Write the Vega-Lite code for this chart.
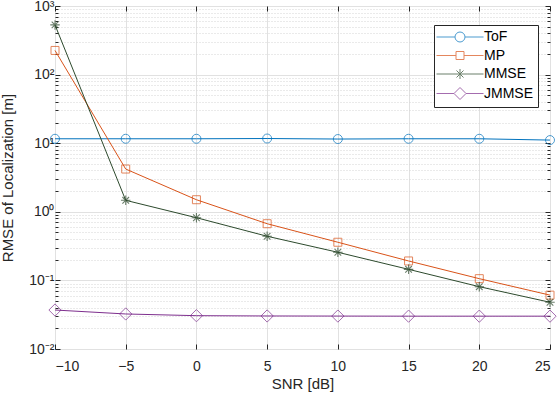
{
  "$schema": "https://vega.github.io/schema/vega-lite/v6.json",
  "width": 495,
  "height": 343,
  "autosize": "none",
  "padding": {"left": 55, "top": 6, "right": 8, "bottom": 49},
  "background": "white",
  "config": {
    "view": {"stroke": "#262626", "strokeWidth": 1},
    "font": "Liberation Sans",
    "axis": {
      "domain": false,
      "labelColor": "#262626",
      "titleColor": "#262626",
      "tickColor": "#262626",
      "labelFontSize": 14,
      "titleFontSize": 15,
      "titleFontWeight": "normal",
      "labelFont": "Liberation Sans",
      "titleFont": "Liberation Sans"
    }
  },
  "data": {
    "values": [
      {"snr": -10, "rmse": 11.6, "series": "ToF"},
      {"snr": -5, "rmse": 11.6, "series": "ToF"},
      {"snr": 0, "rmse": 11.6, "series": "ToF"},
      {"snr": 5, "rmse": 11.7, "series": "ToF"},
      {"snr": 10, "rmse": 11.5, "series": "ToF"},
      {"snr": 15, "rmse": 11.6, "series": "ToF"},
      {"snr": 20, "rmse": 11.6, "series": "ToF"},
      {"snr": 25, "rmse": 11.1, "series": "ToF"},
      {"snr": -10, "rmse": 225, "series": "MP"},
      {"snr": -5, "rmse": 4.2, "series": "MP"},
      {"snr": 0, "rmse": 1.5, "series": "MP"},
      {"snr": 5, "rmse": 0.67, "series": "MP"},
      {"snr": 10, "rmse": 0.36, "series": "MP"},
      {"snr": 15, "rmse": 0.192, "series": "MP"},
      {"snr": 20, "rmse": 0.106, "series": "MP"},
      {"snr": 25, "rmse": 0.061, "series": "MP"},
      {"snr": -10, "rmse": 530, "series": "MMSE"},
      {"snr": -5, "rmse": 1.47, "series": "MMSE"},
      {"snr": 0, "rmse": 0.82, "series": "MMSE"},
      {"snr": 5, "rmse": 0.44, "series": "MMSE"},
      {"snr": 10, "rmse": 0.257, "series": "MMSE"},
      {"snr": 15, "rmse": 0.145, "series": "MMSE"},
      {"snr": 20, "rmse": 0.081, "series": "MMSE"},
      {"snr": 25, "rmse": 0.048, "series": "MMSE"},
      {"snr": -10, "rmse": 0.037, "series": "JMMSE"},
      {"snr": -5, "rmse": 0.0324, "series": "JMMSE"},
      {"snr": 0, "rmse": 0.0306, "series": "JMMSE"},
      {"snr": 5, "rmse": 0.0303, "series": "JMMSE"},
      {"snr": 10, "rmse": 0.0302, "series": "JMMSE"},
      {"snr": 15, "rmse": 0.0301, "series": "JMMSE"},
      {"snr": 20, "rmse": 0.0301, "series": "JMMSE"},
      {"snr": 25, "rmse": 0.0301, "series": "JMMSE"}
    ]
  },
  "encoding": {
    "x": {
      "field": "snr", "type": "quantitative",
      "scale": {"domain": [-10, 25], "nice": false, "zero": false},
      "axis": null
    },
    "y": {
      "field": "rmse", "type": "quantitative",
      "scale": {"type": "log", "domain": [0.01, 1000], "nice": false},
      "axis": null
    },
    "color": {
      "field": "series", "type": "nominal",
      "scale": {"domain": ["ToF", "MP", "MMSE", "JMMSE"], "range": ["#0072BD", "#D95319", "#2d4a2d", "#7E2F8E"]},
      "legend": {
        "orient": "none",
        "legendX": 379,
        "legendY": 19,
        "title": null,
        "strokeColor": "#262626",
        "fillColor": "white",
        "padding": 5,
        "labelFontSize": 14,
        "labelColor": "black",
        "labelFont": "Liberation Sans",
        "symbolSize": 100,
        "symbolStrokeWidth": 1,
        "symbolFillColor": "transparent",
        "symbolOffset": 14,
        "labelOffset": 17,
        "rowPadding": 4.5
      }
    }
  },
  "layer": [
    {
      "mark": {"type": "line", "strokeWidth": 1},
      "encoding": {
        "x": {
          "field": "snr", "type": "quantitative",
          "axis": {
            "orient": "bottom",
            "values": [-10, -5, 0, 5, 10, 15, 20, 25],
            "title": "SNR [dB]",
            "grid": true, "gridColor": "#e1e1e1",
            "tickSize": -5,
            "labelPadding": 15,
            "titlePadding": 3
          }
        },
        "y": {
          "field": "rmse", "type": "quantitative",
          "axis": {
            "orient": "left",
            "values": [0.01,0.02,0.03,0.04,0.05,0.06,0.07,0.08,0.09,0.1,0.2,0.3,0.4,0.5,0.6,0.7,0.8,0.9,1,2,3,4,5,6,7,8,9,10,20,30,40,50,60,70,80,90,100,200,300,400,500,600,700,800,900,1000],
            "labelExpr": "datum.value==1000?'10³':datum.value==100?'10²':datum.value==10?'10¹':datum.value==1?'10⁰':datum.value==0.1?'10⁻¹':datum.value==0.01?'10⁻²':''",
            "title": "RMSE of Localization [m]",
            "grid": true,
            "gridColor": {"condition": {"test": "indexof([0.01,0.1,1,10,100,1000], datum.value) >= 0", "value": "#e1e1e1"}, "value": "#d4d4d4"},
            "gridDash": {"condition": {"test": "indexof([0.01,0.1,1,10,100,1000], datum.value) >= 0", "value": []}, "value": [1, 2]},
            "tickSize": {"condition": {"test": "indexof([0.01,0.1,1,10,100,1000], datum.value) >= 0", "value": -5}, "value": -3},
            "labelPadding": 6,
            "titlePadding": 13,
            "labelBound": false,
            "labelOverlap": false
          }
        }
      }
    },
    {
      "transform": [{"filter": "datum.series == 'ToF'"}],
      "mark": {"type": "point", "filled": false, "strokeWidth": 1, "shape": "circle", "size": 81},
      "encoding": {
        "x": {
          "field": "snr", "type": "quantitative",
          "axis": {
            "orient": "top",
            "values": [-10, -5, 0, 5, 10, 15, 20, 25],
            "title": null, "labels": false, "grid": false,
            "tickSize": -5
          }
        },
        "y": {
          "field": "rmse", "type": "quantitative",
          "axis": {
            "orient": "right",
            "values": [0.01,0.02,0.03,0.04,0.05,0.06,0.07,0.08,0.09,0.1,0.2,0.3,0.4,0.5,0.6,0.7,0.8,0.9,1,2,3,4,5,6,7,8,9,10,20,30,40,50,60,70,80,90,100,200,300,400,500,600,700,800,900,1000],
            "title": null, "labels": false, "grid": false,
            "tickSize": {"condition": {"test": "indexof([0.01,0.1,1,10,100,1000], datum.value) >= 0", "value": -5}, "value": -3}
          }
        }
      }
    },
    {
      "transform": [{"filter": "datum.series == 'MP'"}],
      "mark": {"type": "point", "filled": false, "strokeWidth": 1, "shape": "square", "size": 64}
    },
    {
      "transform": [{"filter": "datum.series == 'MMSE'"}],
      "mark": {"type": "point", "filled": false, "strokeWidth": 1.1, "shape": "M-1,0H1M0,-1V1M-0.7,-0.7L0.7,0.7M-0.7,0.7L0.7,-0.7", "size": 90}
    },
    {
      "transform": [{"filter": "datum.series == 'JMMSE'"}],
      "mark": {"type": "point", "filled": false, "strokeWidth": 1, "shape": "diamond", "size": 150}
    },
    {
      "transform": [{"filter": "datum.snr > 1000"}],
      "mark": {"type": "point", "filled": false, "strokeWidth": 1},
      "encoding": {
        "shape": {
          "field": "series", "type": "nominal",
          "scale": {
            "domain": ["ToF", "MP", "MMSE", "JMMSE"],
            "range": [
              "M-4.7,0H-1M1,0H4.7M-1,0A1,1 0 1,0 1,0A1,1 0 1,0 -1,0",
              "M-4.7,0H-0.8M0.8,0H4.7M-0.8,-0.8H0.8V0.8H-0.8Z",
              "M-4.7,0H4.7M0,-1V1M-0.7,-0.7L0.7,0.7M-0.7,0.7L0.7,-0.7",
              "M-4.7,0H-1.2M1.2,0H4.7M-1.2,0L0,-1.2L1.2,0L0,1.2Z"
            ]
          }
        }
      }
    }
  ]
}
